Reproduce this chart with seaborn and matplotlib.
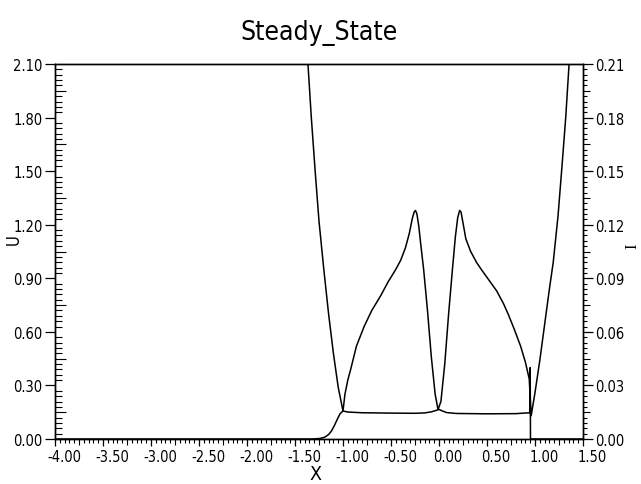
import seaborn as sns
import matplotlib.pyplot as plt
import numpy as np
from matplotlib.ticker import MultipleLocator, FormatStrFormatter
from matplotlib.transforms import ScaledTranslation

# U curve (left axis): W-shaped profile
u_x = [-1.42, -1.365, -1.33, -1.29, -1.25, -1.20, -1.15, -1.10, -1.05, -1.00,
       -0.98, -0.95, -0.92, -0.86, -0.78, -0.70, -0.61, -0.53, -0.45,
       -0.40, -0.35, -0.31, -0.28, -0.26, -0.245, -0.23, -0.21, -0.19, -0.16,
       -0.12, -0.08, -0.04, -0.01,
       0.02, 0.06, 0.10, 0.14, 0.17, 0.195, 0.215, 0.23, 0.25, 0.28, 0.33,
       0.39, 0.44, 0.52, 0.60, 0.67, 0.72, 0.78, 0.85, 0.90, 0.94, 0.96,
       1.00, 1.05, 1.10, 1.15, 1.19, 1.24, 1.28, 1.32, 1.355, 1.40]
u_y = [2.55, 2.10, 1.80, 1.50, 1.22, 0.95, 0.70, 0.48, 0.29, 0.157,
       0.25, 0.33, 0.39, 0.52, 0.63, 0.72, 0.80, 0.88, 0.95,
       1.00, 1.07, 1.15, 1.23, 1.27, 1.28, 1.26, 1.19, 1.09, 0.95,
       0.72, 0.46, 0.25, 0.165,
       0.21, 0.42, 0.70, 0.95, 1.13, 1.24, 1.28, 1.27, 1.21, 1.12, 1.05,
       0.99, 0.95, 0.89, 0.83, 0.76, 0.70, 0.62, 0.52, 0.43, 0.336, 0.13,
       0.26, 0.44, 0.64, 0.84, 0.99, 1.25, 1.52, 1.80, 2.10, 2.45]

# I curve (right axis)
i_x = [-4.00, -1.32, -1.24, -1.19, -1.15, -1.12, -1.09, -1.06, -1.03, -1.00,
       -0.95, -0.80, -0.50, -0.25, -0.15, -0.08, -0.03, 0.00, 0.03, 0.08, 0.18,
       0.50, 0.80, 0.945, 0.950, 0.953, 1.50]
i_y = [0.0, 0.0, 0.0003, 0.0010, 0.0025, 0.0045, 0.0075, 0.0110, 0.0142, 0.0157,
       0.0151, 0.0147, 0.0145, 0.0144, 0.0146, 0.0152, 0.016, 0.0166, 0.0158, 0.0148, 0.0143,
       0.0141, 0.0142, 0.0147, 0.040, 0.0, 0.0]

sns.set_style("ticks")
plt.rcParams['font.family'] = ['DejaVu Sans']
plt.rcParams['font.stretch'] = 'condensed'
plt.rcParams['text.color'] = 'black'
plt.rcParams['xtick.color'] = 'black'
plt.rcParams['ytick.color'] = 'black'
plt.rcParams['axes.linewidth'] = 1.0

fig = plt.figure(figsize=(6.41, 4.85), dpi=100)
ax = fig.add_axes([55 / 641, 45 / 485, 528 / 641, 375 / 485])
ax2 = ax.twinx()

sns.lineplot(x=u_x, y=u_y, ax=ax, color="black", lw=1.1, sort=False, estimator=None)
sns.lineplot(x=i_x, y=i_y, ax=ax2, color="black", lw=1.1, sort=False, estimator=None)

ax.set_xlim(-4.0, 1.5)
ax.set_ylim(0, 2.1)
ax2.set_ylim(0, 0.21)

ax.xaxis.set_major_locator(MultipleLocator(0.5))
ax.xaxis.set_minor_locator(MultipleLocator(0.05))
ax.yaxis.set_major_locator(MultipleLocator(0.3))
ax.yaxis.set_minor_locator(MultipleLocator(0.03))
ax2.yaxis.set_major_locator(MultipleLocator(0.03))
ax2.yaxis.set_minor_locator(MultipleLocator(0.003))
ax.xaxis.set_major_formatter(FormatStrFormatter("%.2f"))
ax.yaxis.set_major_formatter(FormatStrFormatter("%.2f"))
ax2.yaxis.set_major_formatter(FormatStrFormatter("%.2f"))

ax.tick_params(axis="x", which="major", direction="out", length=5, width=0.9,
               labelsize=10.5, pad=2)
ax.tick_params(axis="x", which="minor", direction="out", length=3, width=0.8)
ax.tick_params(axis="y", which="major", direction="out", length=7, width=0.9,
               labelsize=10.5, pad=2)
ax.tick_params(axis="y", which="minor", direction="in", length=5, width=0.8)
ax2.tick_params(axis="y", which="major", direction="out", length=7, width=0.9,
                labelsize=10.5, pad=2)
ax2.tick_params(axis="y", which="minor", direction="out", length=3, width=0.8)

# longer minor tick halfway between majors
def mark_half(axis, step, size):
    locs = axis.get_minorticklocs()
    for t, loc in zip(axis.get_minor_ticks(len(locs)), locs):
        r = loc / step
        if abs(r - round(r)) < 1e-6:
            t.tick1line.set_markersize(size)
            t.tick2line.set_markersize(size)

mark_half(ax.yaxis, 0.15, 8)
mark_half(ax2.yaxis, 0.015, 5)
mark_half(ax.xaxis, 0.25, 4)

# tick labels sit a little right of their ticks
for lab in ax.get_xticklabels():
    lab.set_transform(lab.get_transform() + ScaledTranslation(0.09, 0, fig.dpi_scale_trans))

for a in (ax, ax2):
    for s in a.spines.values():
        s.set_visible(True)
        s.set_color("black")

ax.set_xlabel("")
ax.set_ylabel("")
ax2.set_ylabel("")
fig.text(0.5 * (55 + 583) / 641, 1 - 33 / 485, "Steady_State", ha="center", va="center",
         fontsize=19)
fig.text(315 / 641, 1 - 475 / 485, "X", ha="center", va="center", fontsize=14)
fig.text(14 / 641, 1 - 240 / 485, "U", ha="center", va="center", rotation=90,
         fontsize=12)
fig.text(632 / 641, 1 - 246 / 485, "I", ha="center", va="center", rotation=90,
         fontsize=12, family="Liberation Serif")

plt.savefig("out.png", dpi=100)
